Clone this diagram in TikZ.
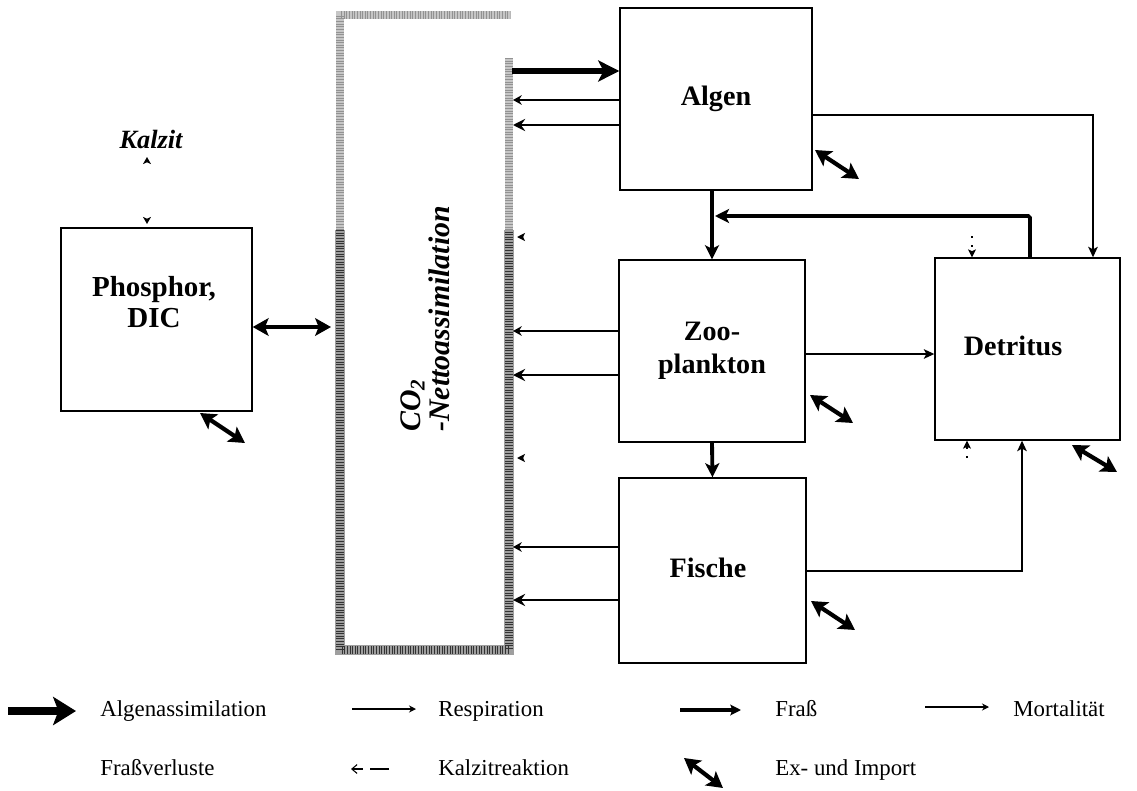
\documentclass[tikz,border=0pt]{standalone}
\usepackage{fontspec}
\setmainfont{Liberation Serif}
\usetikzlibrary{arrows.meta}
\tikzset{
  box/.style={draw,line width=0.8pt,inner sep=0pt,align=center,font=\fontsize{16}{18.5}\selectfont\bfseries},
  boxtext/.style={inner sep=0pt,align=center,font=\fontsize{16}{18.5}\selectfont\bfseries},
  leg/.style={inner sep=0pt,anchor=base west,font=\fontsize{13}{15}\selectfont},
  assim/.style={line width=3.4pt,-{Stealth[length=12pt,width=12pt,inset=3pt]}},
  respA/.style={line width=1.4pt,-{Stealth[length=5pt,width=5.5pt]}},
  respB/.style={line width=0.8pt,-{Stealth[length=7pt,width=7pt,inset=2.5pt]}},
  frass/.style={line width=2.2pt,-{Stealth[length=8pt,width=8pt,inset=2pt]}},
  mort/.style={line width=0.7pt,-{Stealth[length=6pt,width=5.5pt,inset=1.5pt]}},
  exim/.style={line width=2.4pt,{Stealth[length=9pt,width=10pt,inset=2pt]}-{Stealth[length=9pt,width=10pt,inset=2pt]}},
  kalz/.style={line width=0.8pt,dash pattern=on 1.2pt off 4pt,-{Stealth[length=4.5pt,width=4.5pt,inset=1pt]}},
  kalztip/.style={line width=0.8pt,line cap=butt,dash pattern=on 0pt off 100pt,-{Stealth[length=4.5pt,width=4.5pt,inset=1pt]}},
  kalzboth/.style={line width=0.8pt,line cap=butt,dash pattern=on 0pt off 100pt,{Stealth[length=4pt,width=4.5pt,inset=1pt]}-{Stealth[length=4pt,width=4.5pt,inset=1pt]}},
  band/.style={line width=5.5pt,draw=gray!75},
  bandlight/.style={line width=5pt,draw=gray!45},
  speck/.style={line width=5pt,draw=black!80,dash pattern=on 0.4pt off 1.1pt},
}
\begin{document}
\begin{tikzpicture}[x=0.02cm,y=-0.02cm]
\useasboundingbox (0,0) rectangle (1137,791);

% speckled band (CO2 net assimilation)
\draw[bandlight] (340,230) -- (340,15) -- (510,15);
\draw[bandlight] (509,58) -- (509,230);
\draw[band] (340,230) -- (340,650) -- (509,650) -- (509,230);
\draw[speck] (340,230) -- (340,650) -- (509,650) -- (509,230);
\draw[speck,draw opacity=0.35] (340,230) -- (340,15) -- (510,15);
\draw[speck,draw opacity=0.35] (509,58) -- (509,230);

\node[font=\fontsize{17}{20}\selectfont\bfseries\itshape,rotate=90,anchor=base west,inner sep=0pt] (co2) at (420,432) {CO\textsubscript{2}};
\node[font=\fontsize{17}{20}\selectfont\bfseries\itshape,rotate=90,anchor=base west,inner sep=0pt] (netto) at (449,432) {-Nettoassimilation};

% boxes
\node[box,minimum width={192*0.02cm},minimum height={182*0.02cm}] (algen) at (716,99) {Algen};
\node[box,minimum width={186*0.02cm},minimum height={182*0.02cm}] (zoo) at (712,351) {Zoo-\\plankton};
\node[box,minimum width={187*0.02cm},minimum height={185*0.02cm}] (fische) at (712.5,570.5) {};
\node[boxtext] (fischetext) at (708,568) {Fische};
\node[box,minimum width={185*0.02cm},minimum height={182*0.02cm}] (det) at (1027.5,349) {};
\node[boxtext] (dettext) at (1013,346) {Detritus};
\node[box,minimum width={191*0.02cm},minimum height={183*0.02cm}] (phos) at (156.5,319.5) {};
\node[boxtext,font=\fontsize{16.5}{18}\selectfont\bfseries] (phostext) at (154,302) {Phosphor,\\DIC};
\node[inner sep=0pt,font=\fontsize{15}{17}\selectfont\bfseries\itshape] (kalzit) at (151,139) {Kalzit};

% band coordinates
\coordinate (b0) at (512,71);
\coordinate (b1) at (513,100);
\coordinate (b2) at (513,125);
\coordinate (b3) at (513,331);
\coordinate (b4) at (513,375);
\coordinate (b5) at (513,547);
\coordinate (b6) at (513,600);
\coordinate (k1) at (517,237);
\coordinate (k2) at (517,458);
\coordinate (bl) at (331,327);

% Algenassimilation
\draw[assim] (b0) -- (b0 -| algen.west);
% Respiration / losses to band
\draw[respA] (b1 -| algen.west) -- (b1);
\draw[respB] (b2 -| algen.west) -- (b2);
\draw[respA] (b3 -| zoo.west) -- (b3);
\draw[respB] (b4 -| zoo.west) -- (b4);
\draw[respA] (b5 -| fische.west) -- (b5);
\draw[respB] (b6 -| fische.west) -- (b6);
% Kalzit reaction tips at band
\draw[kalztip] (k1) ++(8,0) -- (k1);
\draw[kalztip] (k2) ++(8,0) -- (k2);
% Phosphor <-> band
\draw[exim] (phos.east |- bl) -- (bl);
% Kalzit <-> Phosphor
\coordinate (kz1) at (147,157);
\coordinate (kz2) at (147,224);
\draw[kalzboth] (kz1) -- (kz2);

% Fraß
\draw[frass] (zoo.north |- algen.south) -- (zoo.north);
\coordinate (f1) at (1030,216);
\coordinate (f2) at (715,216);
\draw[frass,rounded corners=1pt] (f1 |- det.north) -- (f1) -- (f2);
\draw[frass] (zoo.south) -- (fische.north);

% Mortalität
\coordinate (m1) at (1093,115);
\draw[mort] (m1 -| algen.east) -- (m1) -- (m1 |- det.north);
\coordinate (z1) at (900,354);
\draw[mort] (z1 -| zoo.east) -- (z1 -| det.west);
\coordinate (d1) at (1022,571);
\draw[mort] (d1 -| fische.east) -- (d1) -- (d1 |- det.south);

% Kalzit at Detritus
\coordinate (k3) at (972,236);
\draw[kalz] (k3) -- (k3 |- det.north);
\coordinate (k4) at (967,458);
\draw[kalz] (k4) -- (k4 |- det.south);

% Ex- und Import
\coordinate (e1a) at (815,150); \coordinate (e1b) at (859,179);
\draw[exim] (e1a) -- (e1b);
\coordinate (e2a) at (810,395); \coordinate (e2b) at (853,423);
\draw[exim] (e2a) -- (e2b);
\coordinate (e3a) at (811,601); \coordinate (e3b) at (855,630);
\draw[exim] (e3a) -- (e3b);
\coordinate (e4a) at (1072,445); \coordinate (e4b) at (1117,472);
\draw[exim] (e4a) -- (e4b);
\coordinate (e5a) at (200,413); \coordinate (e5b) at (245,443);
\draw[exim] (e5a) -- (e5b);

% Legend
\coordinate (l1a) at (8,711); \coordinate (l1b) at (76,711);
\draw[line width=4.5pt,-{Stealth[length=13pt,width=16pt,inset=3pt]}] (l1a) -- (l1b);
\node[leg] (t1) at (100,716) {Algenassimilation};
\coordinate (l2a) at (352,709); \coordinate (l2b) at (416,709);
\draw[line width=0.9pt,-{Stealth[length=4pt,width=4pt]}] (l2a) -- (l2b);
\node[leg] (t2) at (438,716) {Respiration};
\coordinate (l3a) at (680,710); \coordinate (l3b) at (741,710);
\draw[line width=2.4pt,-{Stealth[length=6pt,width=6pt,inset=1pt]}] (l3a) -- (l3b);
\node[leg] (t3) at (775,716) {Fraß};
\coordinate (l4a) at (925,707); \coordinate (l4b) at (989,707);
\draw[line width=0.6pt,-{Stealth[length=4pt,width=4pt]}] (l4a) -- (l4b);
\node[leg] (t4) at (1013,716) {Mortalität};

\node[leg] (t5) at (100,775) {Fraßverluste};
\coordinate (l6a) at (389,769); \coordinate (l6b) at (351,769);
\draw[line width=0.6pt,dash pattern=on 11pt off 4pt on 7pt off 30pt,-{Straight Barb[length=3pt,width=5pt]}] (l6a) -- (l6b);
\node[leg] (t6) at (438,775) {Kalzitreaktion};
\coordinate (l7a) at (684,758); \coordinate (l7b) at (723,788);
\draw[exim] (l7a) -- (l7b);
\node[leg] (t7) at (775,775) {Ex- und Import};
\end{tikzpicture}
\end{document}
